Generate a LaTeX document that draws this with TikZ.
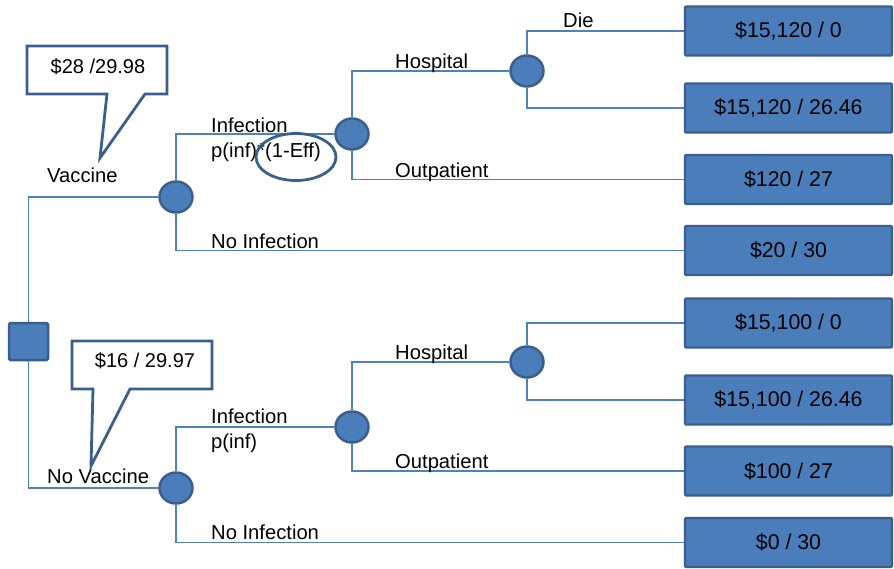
\documentclass[tikz,border=0pt]{standalone}
\usepackage{fontspec}
\setmainfont{Liberation Sans}
\usetikzlibrary{shapes.geometric,backgrounds}
\definecolor{nodefill}{HTML}{4A7DBA}
\definecolor{nodeedge}{HTML}{3A5F8C}
\definecolor{wire}{HTML}{4F81BD}
\tikzset{
  lbl/.style={anchor=base west, inner sep=0pt, font=\fontsize{20.2}{22}\selectfont},
  chance/.style={ellipse, draw=nodeedge, fill=nodefill, line width=2.5pt,
    minimum width=33pt, minimum height=31pt, inner sep=0pt},
  decision/.style={rectangle, rounded corners=1.5pt, draw=nodeedge, fill=nodefill,
    line width=2.5pt, minimum width=39pt, minimum height=37pt, inner sep=0pt},
  payoff/.style={rectangle, rounded corners=1pt, draw=nodeedge, fill=nodefill,
    line width=2.2pt, minimum width=207pt, minimum height=49pt, inner sep=0pt,
    font=\fontsize{21.3}{23}\selectfont},
  branch/.style={draw=wire, line width=1.3pt},
  callout/.style={draw=nodeedge, fill=white, line width=2.8pt, line join=miter},
  calltext/.style={inner sep=0pt, font=\fontsize{20}{22}\selectfont}
}
\begin{document}
\begin{tikzpicture}[x=1pt, y=-1pt]
\useasboundingbox (0,0) rectangle (894,568);

% decision and chance nodes
\node[decision] (dec) at (28.5,341.5) {};
\node[chance] (cV)  at (176,197) {};
\node[chance] (cI1) at (352,134) {};
\node[chance] (cH1) at (527,71) {};
\node[chance] (cNV) at (176,488) {};
\node[chance] (cI2) at (352,427) {};
\node[chance] (cH2) at (527,362) {};

% terminal payoffs
\node[payoff] (b1) at (788.5,31)    {\$15,120 / 0};
\node[payoff] (b2) at (788.5,108)   {\$15,120 / 26.46};
\node[payoff] (b3) at (788.5,179.5) {\$120 / 27};
\node[payoff] (b4) at (788.5,250.5) {\$20 / 30};
\node[payoff] (b5) at (788.5,323)   {\$15,100 / 0};
\node[payoff] (b6) at (788.5,400)   {\$15,100 / 26.46};
\node[payoff] (b7) at (788.5,471)   {\$100 / 27};
\node[payoff] (b8) at (788.5,542.5) {\$0 / 30};

% branches, kept behind the nodes
\begin{scope}[on background layer]
\draw[branch] (dec.north) |- (cV.west);
\draw[branch] (dec.south) |- (cNV.west);
\draw[branch] (cV.north)  |- (cI1.west);
\draw[branch] (cV.south)  |- (b4.west);
\draw[branch] (cI1.north) |- (cH1.west);
\draw[branch] (cI1.south) |- (b3.west);
\draw[branch] (cH1.north) |- (b1.west);
\draw[branch] (cH1.south) |- (b2.west);
\draw[branch] (cNV.north) |- (cI2.west);
\draw[branch] (cNV.south) |- (b8.west);
\draw[branch] (cI2.north) |- (cH2.west);
\draw[branch] (cI2.south) |- (b7.west);
\draw[branch] (cH2.north) |- (b5.west);
\draw[branch] (cH2.south) |- (b6.west);
\end{scope}

% branch labels
\node[lbl] (lV)   at (47,182)  {Vaccine};
\node[lbl] (lI1)  at (211,132) {Infection};
\node[lbl] (lP1)  at (211,157) {p(inf)*(1-Eff)};
\node[lbl] (lN1)  at (211,248) {No Infection};
\node[lbl] (lH1)  at (395,68)  {Hospital};
\node[lbl] (lD)   at (563,27)  {Die};
\node[lbl] (lO1)  at (395,177) {Outpatient};
\node[lbl] (lNV)  at (47,483)  {No Vaccine};
\node[lbl] (lI2)  at (211,423) {Infection};
\node[lbl] (lP2)  at (211,448) {p(inf)};
\node[lbl] (lN2)  at (211,539) {No Infection};
\node[lbl] (lH2)  at (395,359) {Hospital};
\node[lbl] (lO2)  at (395,468) {Outpatient};

% highlight around the efficacy term
\draw[draw=nodeedge, line width=2.8pt] (296,157) ellipse [x radius=40, y radius=23.5];

% expected value callouts
\draw[callout] (27,46) -- (167,46) -- (167,94) -- (145,94) -- (100,158)
  -- (107,94) -- (27,94) -- cycle;
\node[calltext] (cv1) at (98,67) {\$28 /29.98};
\draw[callout] (72,341) -- (212,341) -- (212,389) -- (130,389) -- (91,466)
  -- (93,389) -- (72,389) -- cycle;
\node[calltext] (cv2) at (145,361) {\$16 / 29.97};
\end{tikzpicture}
\end{document}
